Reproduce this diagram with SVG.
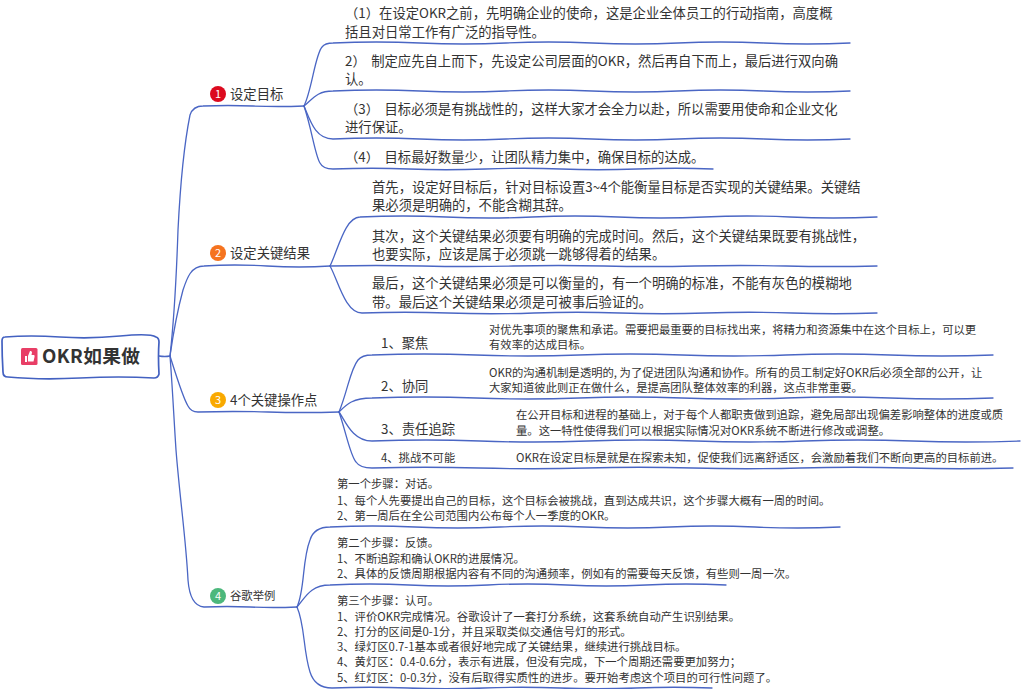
<svg xmlns="http://www.w3.org/2000/svg" width="1022" height="689" viewBox="0 0 1022 689">
<style>
text{font-family:"Noto Sans CJK SC","Microsoft YaHei",sans-serif;fill:#333;white-space:pre}
.m{font-size:13.33px}
.w{word-spacing:2.500px}
.s{font-size:11.33px}
.l{fill:none;stroke:#4a66c4;stroke-width:1.3;stroke-linecap:round;stroke-linejoin:round}
.n{font-size:11px;fill:#fff;text-anchor:middle}
</style>
<rect width="1022" height="689" fill="#fff"/>
<g id="connectors" class="l">
<path d="M159 356Q165 357 170 356"/>
<path d="M170 356C174 320 176 290 178 230C180 190 183 150 190 115Q193 106 203 106q25 -1 50 0t51 0"/>
<path d="M170 356C173 335 177 312 183 290C187 278 191 266 204 266q30 -2 63 0t63 0"/>
<path d="M170 356C176 375 183 398 188 406Q191 412 198 412q35 -1 70 0t71 0"/>
<path d="M170 356C172 380 174 420 176 450C180 500 186 540 188 580Q190 606 204 607q23 -1 46 0t47 0"/>
<path d="M304 106C312 90 315 55 322 47Q325 43 333 43q43 -2 87 0t86 0t86 0t86 0t86 0t86 0"/>
<path d="M304 106C312 100 316 91 333 91q43 -2 87 0t86 0t86 0t86 0t86 0t86 0"/>
<path d="M304 106C310 120 315 139 333 139q43 -2 87 0t86 0t86 0t86 0t86 0t86 0"/>
<path d="M304 106C312 130 315 155 320 163Q323 169 333 169q40 -1.500 76 0t76 0t76 0t76 0t76 0"/>
<path d="M330 266C338 250 345 217 360 217q43 -2 86 0t86 0t86 0t86 0t86 0t87 0"/>
<path d="M330 266q46 -1 92 0t91 0t91 0t91 0t91 0t91 0"/>
<path d="M330 266C338 280 345 313 362 313q43 -1.500 86 0t86 0t86 0t86 0t86 0t85 0"/>
<path d="M339 412C348 390 350 370 358 360Q362 355 372 355q52 -2 104 0t103 0t103 0t104 0t104 0t103 0"/>
<path d="M339 412C346 405 352 398 372 398q52 -2 104 0t103 0t103 0t104 0t104 0t103 0"/>
<path d="M339 412C345 420 352 441 372 441q54 -2 108 0t108 0t108 0t108 0t108 0t108 0"/>
<path d="M339 412C346 432 350 455 356 462Q360 468 372 468q53 -1.500 107 0t107 0t107 0t107 0t107 0t106 0"/>
<path d="M297 607C305 590 302 560 310 540Q314 527 330 527q42 -2 85 0t85 0t85 0t85 0t85 0t85 0"/>
<path d="M297 607C305 598 310 585 330 585q40 -2 79 0t79 0t79 0t79 0t80 0"/>
<path d="M297 607C305 625 303 650 310 672Q315 688 332 688q38 -1.500 76 0t76 0t76 0t76 0t76 0"/>
</g>
<g id="root">
<path d="M5 337Q30 335 60 337T120 336T156 337Q159 338 159 342Q158 356 159 374Q158 378 154 378Q120 376 80 378T8 377Q3 377 3 372Q2 356 2 341Q2 337 5 337Z" fill="#fff" stroke="#4361c1" stroke-width="1.700"/>
<rect x="21" y="348" width="16.500" height="17" rx="1.500" fill="#e83e66"/>
<path d="M25 356h2v6h-2zM28 356l2 -5q2 -.5 2 1.500l-.5 2.500h2.500q1 .5 .5 2l-1 4.500h-5.500z" fill="#fff"/>
<text x="42" y="363" font-size="18.700" font-weight="700" textLength="98">OKR如果做</text>
</g>
<g id="topic-1">
<circle cx="218" cy="94" r="8" fill="#dc0a1f"/><text class="n" x="218" y="98">1</text>
<text class="m" x="230" y="99">设定目标</text>
</g>
<g id="topic-1-1"><text class="m" x="345" y="18">（1）在设定OKR之前，先明确企业的使命，这是企业全体员工的行动指南，高度概</text><text class="m" x="345" y="37">括且对日常工作有广泛的指导性。</text></g>
<g id="topic-1-2"><text class="m w" x="345" y="66">2） 制定应先自上而下，先设定公司层面的OKR，然后再自下而上，最后进行双向确</text><text class="m" x="345" y="84">认。</text></g>
<g id="topic-1-3"><text class="m w" x="345" y="114">（3） 目标必须是有挑战性的，这样大家才会全力以赴，所以需要用使命和企业文化</text><text class="m" x="345" y="132">进行保证。</text></g>
<g id="topic-1-4"><text class="m w" x="345" y="162">（4） 目标最好数量少，让团队精力集中，确保目标的达成。</text></g>
<g id="topic-2">
<circle cx="218" cy="253" r="8" fill="#f5731f"/><text class="n" x="218" y="257">2</text>
<text class="m" x="230" y="258">设定关键结果</text>
</g>
<g id="topic-2-1"><text class="m" x="372" y="192">首先，设定好目标后，针对目标设置3~4个能衡量目标是否实现的关键结果。关键结</text><text class="m" x="372" y="210">果必须是明确的，不能含糊其辞。</text></g>
<g id="topic-2-2"><text class="m" x="372" y="241">其次，这个关键结果必须要有明确的完成时间。然后，这个关键结果既要有挑战性，</text><text class="m" x="372" y="259">也要实际，应该是属于必须跳一跳够得着的结果。</text></g>
<g id="topic-2-3"><text class="m" x="372" y="288">最后，这个关键结果必须是可以衡量的，有一个明确的标准，不能有灰色的模糊地</text><text class="m" x="372" y="307">带。最后这个关键结果必须是可被事后验证的。</text></g>
<g id="topic-3">
<circle cx="218" cy="400" r="8" fill="#f9a900"/><text class="n" x="218" y="404">3</text>
<text class="m" x="230" y="405">4个关键操作点</text>
</g>
<g id="topic-3-1"><text class="m" x="381" y="348">1、聚焦</text><text class="s" x="489" y="334">对优先事项的聚焦和承诺。需要把最重要的目标找出来，将精力和资源集中在这个目标上，可以更</text><text class="s" x="489" y="349">有效率的达成目标。</text></g>
<g id="topic-3-2"><text class="m" x="381" y="391">2、协同</text><text class="s" x="489" y="377">OKR的沟通机制是透明的, 为了促进团队沟通和协作。所有的员工制定好OKR后必须全部的公开，让</text><text class="s" x="489" y="392">大家知道彼此则正在做什么，是提高团队整体效率的利器，这点非常重要。</text></g>
<g id="topic-3-3"><text class="m" x="381" y="434">3、责任追踪</text><text class="s" x="516" y="419">在公开目标和进程的基础上，对于每个人都职责做到追踪，避免局部出现偏差影响整体的进度或质</text><text class="s" x="516" y="435">量。这一特性使得我们可以根据实际情况对OKR系统不断进行修改或调整。</text></g>
<g id="topic-3-4"><text class="s" x="381" y="462">4、挑战不可能</text><text class="s" x="516" y="462">OKR在设定目标是就是在探索未知，促使我们远离舒适区，会激励着我们不断向更高的目标前进。</text></g>
<g id="topic-4">
<circle cx="218" cy="596" r="8" fill="#4cb87c"/><text class="n" x="218" y="600">4</text>
<text class="s" x="230" y="600">谷歌举例</text>
</g>
<g id="topic-4-1"><text class="s" x="337" y="488">第一个步骤：对话。</text><text class="s" x="337" y="505">1、每个人先要提出自己的目标，这个目标会被挑战，直到达成共识，这个步骤大概有一周的时间。</text><text class="s" x="337" y="520">2、第一周后在全公司范围内公布每个人一季度的OKR。</text></g>
<g id="topic-4-2"><text class="s" x="337" y="547">第二个步骤：反馈。</text><text class="s" x="337" y="563">1、不断追踪和确认OKR的进展情况。</text><text class="s" x="337" y="578">2、具体的反馈周期根据内容有不同的沟通频率，例如有的需要每天反馈，有些则一周一次。</text></g>
<g id="topic-4-3"><text class="s" x="337" y="605">第三个步骤：认可。</text><text class="s" x="337" y="621">1、评价OKR完成情况。谷歌设计了一套打分系统，这套系统自动产生识别结果。</text><text class="s" x="337" y="636">2、打分的区间是0-1分，并且采取类似交通信号灯的形式。</text><text class="s" x="337" y="651">3、绿灯区0.7-1基本或者很好地完成了关键结果，继续进行挑战目标。</text><text class="s" x="337" y="666">4、黄灯区：0.4-0.6分，表示有进展，但没有完成，下一个周期还需要更加努力；</text><text class="s" x="337" y="682">5、红灯区：0-0.3分，没有后取得实质性的进步。要开始考虑这个项目的可行性问题了。</text></g>
</svg>
